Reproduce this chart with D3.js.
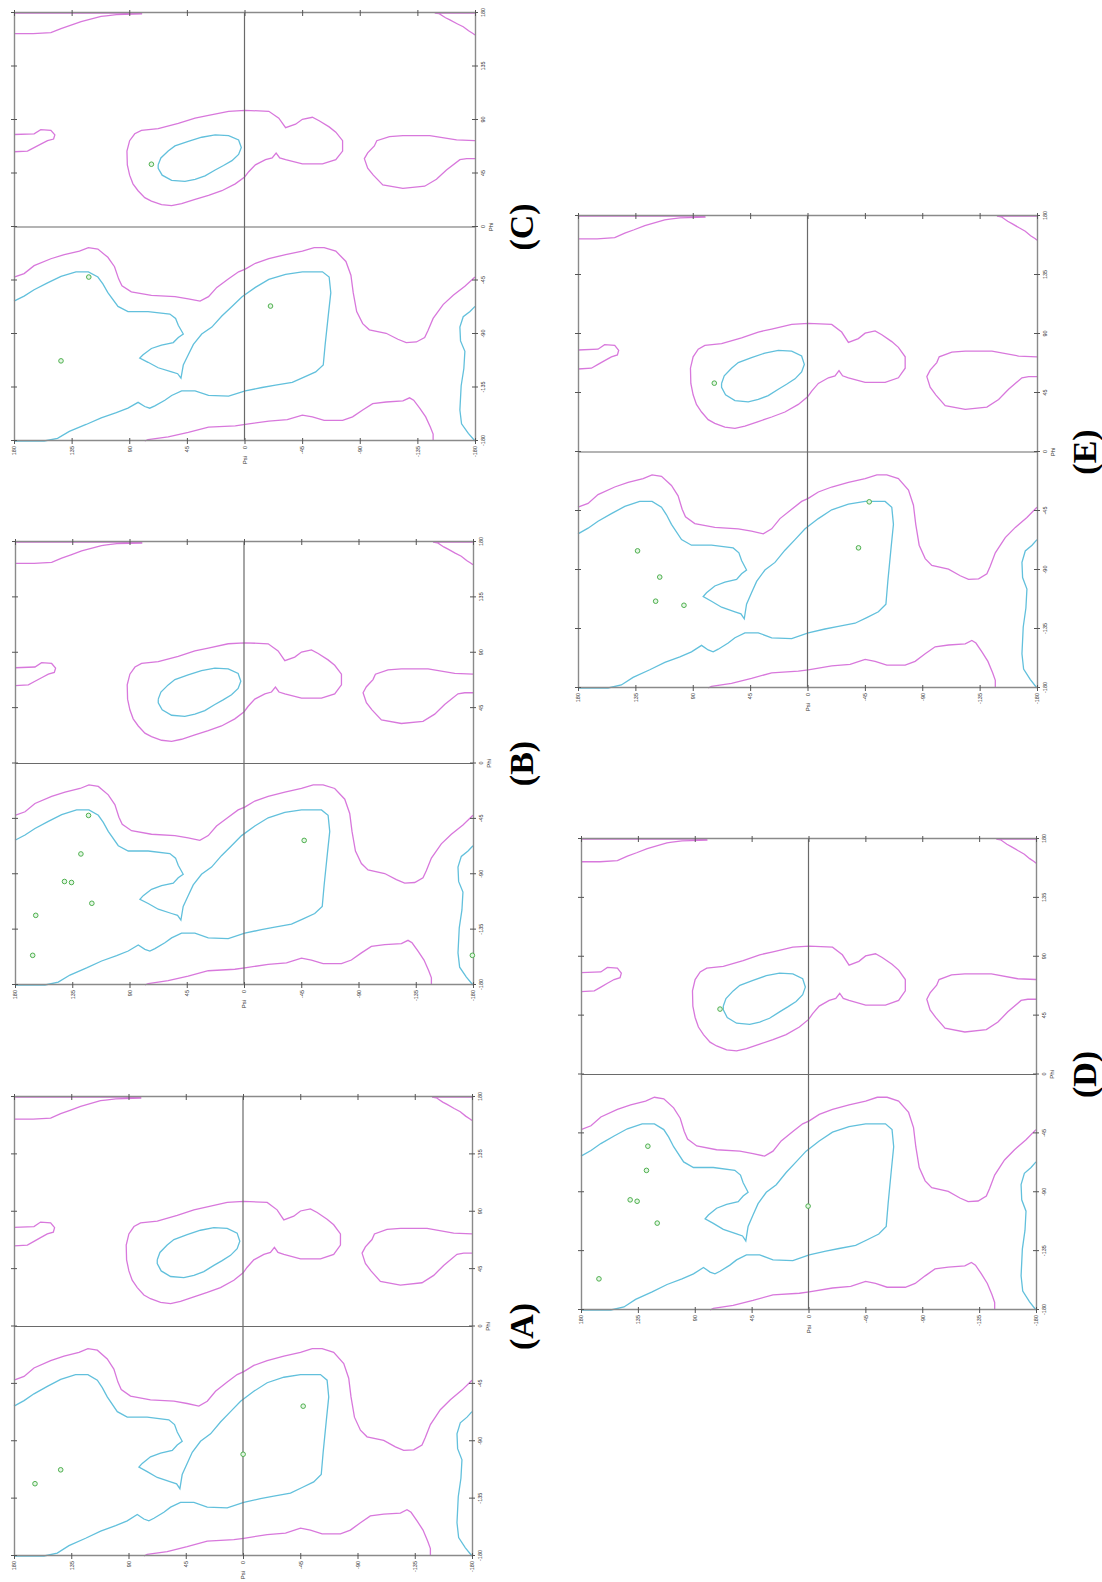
<!DOCTYPE html>
<html>
<head>
<meta charset="utf-8">
<script src="https://cdn.jsdelivr.net/npm/d3@7"></script>
<style>
  body { margin: 0; background: #fff; }
</style>
</head>
<body>
<div id="chart"></div>
<script>
// tick values, same on both axes
const tickValues = [-180, -135, -90, -45, 0, 45, 90, 135, 180];
const panelNames = ["(A)", "(B)", "(C)", "(D)", "(E)"];

// contour lines, every point is [phi, psi]
// allowed (outer) region boundaries
const allowedTop = [[180,180],[180,82],[179.2,80],[178.6,100],[177.6,108],[177.1,112],[172.7,127.6],[169.5,136],[166.9,143.3],[163.5,151.2],[162.6,165],[162.6,180]];
const allowedTopRight = [[180,-180],[180,-148.6],[179.4,-152],[176,-157],[174.2,-160.4],[171,-166],[168.4,-170.8],[165,-175],[162.6,-178.7],[161.5,-180]];
const allowedLeftBlob = [[77.8,180],[78.4,164.3],[81.9,159.1],[81.3,151.2],[77.5,148.1],[74.0,149.1],[72.6,153.8],[69.7,159.1],[66.8,164.3],[63.9,169.5],[63.3,180]];
const allowedLeftHanded = [[98.1,-0.6],[97.3,-19.0],[91.5,-26.8],[83.6,-32.1],[86.5,-39.9],[90.6,-45.2],[92.3,-53.0],[89.4,-58.3],[84.2,-66.1],[79.8,-71.3],[72.6,-76.6],[63.9,-76.6],[56.6,-71.3],[53.1,-60.9],[53.1,-45.2],[56.6,-32.1],[58.1,-27.5],[62.1,-24.7],[58.1,-21.6],[56.6,-16.4],[52.3,-8.5],[46.5,-3.3],[42.1,-0.1],[36.3,7.2],[30.5,17.7],[26.7,28.1],[23.2,38.6],[19.7,49.1],[18.0,56.9],[18.9,64.8],[21.8,72.7],[24.7,77.9],[30.5,83.1],[36.3,87.1],[43.6,89.7],[52.3,91.5],[63.9,91.8],[72.6,89.7],[78.4,85.7],[81.3,80.5],[82.7,67.4],[87.1,51.7],[91.5,38.6],[93.8,28.1],[97.3,12.4],[98.1,-0.6]];
const allowedRight = [[72.6,-180],[73.2,-165.6],[76.9,-144.7],[76.9,-123.7],[76.1,-113.2],[72.6,-103.3],[68.2,-101.4],[62.4,-96.2],[57.5,-93.6],[49.4,-96.2],[43.6,-100.6],[35.4,-108.0],[32.5,-123.7],[34.3,-140.7],[40.1,-149.9],[47.9,-157.7],[56.6,-168.2],[57.5,-173.5],[57.5,-180]];
const allowedMain = [[-42.1,180],[-39.2,172.1],[-32.5,164.3],[-26.7,151.2],[-23.2,140.7],[-20.3,128.9],[-17.4,121.9],[-18.6,114.5],[-25.5,106.7],[-33.4,101.5],[-43.6,98.3],[-49.4,95.7],[-54.6,88.4],[-57.5,72.7],[-58.6,54.3],[-60.4,43.9],[-62.4,34.7],[-58.6,28.1],[-50.8,21.6],[-43.6,12.4],[-37.7,4.6],[-35.4,-0.6],[-30.5,-8.5],[-26.7,-19.0],[-23.2,-32.1],[-20.3,-45.2],[-17.4,-54.4],[-17.4,-62.2],[-20.3,-71.3],[-29.0,-79.2],[-40.6,-83.1],[-55.2,-84.9],[-71.1,-87.6],[-81.3,-92.3],[-86.5,-97.5],[-89.4,-110.6],[-94.4,-119.8],[-97.2,-126.3],[-96.7,-134.2],[-92.9,-140.7],[-87.1,-143.3],[-76.9,-147.3],[-65.3,-155.1],[-57.5,-163.0],[-49.9,-172.1],[-42.1,-180]];
const allowedBottom = [[-180,77.9],[-178.8,75.3],[-176.5,59.6],[-172.7,43.9],[-168.4,28.1],[-167.2,7.2],[-166.1,-0.6],[-163.2,-19.0],[-162.0,-33.4],[-158.2,-45.2],[-159.7,-53.0],[-162.6,-62.2],[-162.6,-76.6],[-159.7,-84.4],[-153.9,-92.3],[-148.6,-100.1],[-147.2,-110.6],[-146.3,-123.7],[-143.7,-128.9],[-145.7,-132.1],[-152.4,-136.8],[-159.7,-141.5],[-168.4,-145.2],[-174.2,-147.3],[-180,-147.3]];

// favoured (inner) region boundaries
const favouredLeftHanded = [[52.3,67.4],[58.1,65.3],[63.9,59.6],[68.2,54.3],[72.0,43.9],[75.5,33.4],[77.5,22.9],[76.9,12.4],[73.2,4.6],[66.8,2.5],[61.0,4.6],[55.8,9.8],[51.7,16.4],[47.9,22.9],[43.0,30.8],[40.1,38.6],[38.3,46.5],[39.2,56.9],[43.6,64.3],[49.4,67.4],[52.3,67.4]];
const favouredMain = [[-62.4,180],[-58.1,172.1],[-52.8,164.3],[-47.0,153.8],[-41.5,143.3],[-37.7,131.6],[-37.7,121.9],[-42.1,114.5],[-47.9,110.6],[-55.2,106.7],[-66.8,98.8],[-71.1,91.0],[-71.1,75.3],[-73.2,58.3],[-76.9,53.8],[-82.7,51.7],[-90.0,47.8],[-92.9,51.7],[-97.2,55.6],[-99.3,64.8],[-102.2,72.7],[-107.4,79.2],[-110.3,81.8],[-113.8,75.3],[-118.4,67.4],[-121.9,56.9],[-123.4,52.2],[-127.2,49.6],[-116.1,47.8],[-107.4,43.9],[-98.7,39.9],[-90.0,33.4],[-84.2,25.5],[-74.9,17.7],[-66.8,9.8],[-58.6,1.9],[-50.8,-8.5],[-44.1,-19.0],[-39.8,-32.1],[-37.7,-45.2],[-37.7,-60.9],[-42.1,-66.1],[-55.2,-67.4],[-72.6,-65.6],[-98.7,-63.0],[-116.1,-61.5],[-121.9,-55.6],[-126.3,-46.5],[-130.6,-37.3],[-133.0,-24.2],[-135.0,-13.7],[-137.9,-0.6],[-142.3,12.4],[-141.7,28.1],[-137.9,38.6],[-137.9,49.1],[-141.7,56.9],[-145.7,62.2],[-150.4,70.0],[-152.4,74.0],[-151.0,77.9],[-147.5,83.1],[-152.4,91.0],[-156.2,100.1],[-160.5,111.9],[-166.1,123.7],[-171.9,136.8],[-177.7,146.0],[-180,156.4],[-180,180]];
const favouredRight = [[-66.8,-180],[-71.1,-176.1],[-75.5,-170.8],[-84.2,-168.2],[-95.8,-168.7],[-104.5,-172.1],[-119.0,-171.3],[-133.5,-169.2],[-153.9,-168.2],[-165.5,-169.5],[-173.6,-174.8],[-180,-180]];

const allowedLines = [allowedTop, allowedTopRight, allowedLeftBlob, allowedLeftHanded, allowedRight, allowedMain, allowedBottom];
const favouredLines = [favouredLeftHanded, favouredMain, favouredRight];

// residues of each panel, [phi, psi]
const residuesA = [[-123.3,163.5],[-112.4,143.3],[-100.2,-0.1],[-62.5,-47.3]];
const residuesB = [[-42.2,122.2],[-73.5,128.2],[-95.9,141.1],[-96.7,135.6],[-113.6,119.6],[-123.4,163.7],[-155.9,166.1],[-62.5,-47.3],[-155.9,-179.5]];
const residuesC = [[52.8,72.7],[-42.1,121.6],[-112.6,143.3],[-66.5,-20.3]];
const residuesD = [[50,70],[-54.8,127.1],[-73.3,128.2],[-95.8,141.1],[-96.9,135.6],[-113.6,119.7],[-156.2,165.8],[-100.6,0.3]];
const residuesE = [[52.5,73.1],[-75.4,133.3],[-95.4,115.9],[-113.8,119.1],[-116.9,96.9],[-73.1,-40.0],[-38.0,-48.4]];

// where each (rotated) panel sits on the page
const boxes = {
  "(A)": {left: 14, top: 1097, right: 472, bottom: 1556, labelX: 521},
  "(B)": {left: 15, top: 542, right: 473, bottom: 985, labelX: 521},
  "(C)": {left: 14, top: 13, right: 475, bottom: 441, labelX: 521},
  "(D)": {left: 581, top: 839, right: 1036, bottom: 1310, labelX: 1084},
  "(E)": {left: 578, top: 216, right: 1037, bottom: 688, labelX: 1084}
};
const residues = {"(A)": residuesA, "(B)": residuesB, "(C)": residuesC, "(D)": residuesD, "(E)": residuesE};

const svg = d3.select("#chart")
  .append("svg")
  .attr("width", 1102)
  .attr("height", 1582)
  .style("background", "#fff");

const axisColor = "#8a8a8a";

function drawPanel(name) {
  const box = boxes[name];
  const W = box.bottom - box.top;   // phi runs up the page
  const H = box.right - box.left;   // psi runs across the page

  // the whole plot is turned a quarter left
  const g = svg.append("g")
    .attr("transform", `translate(${box.left}, ${box.bottom}) rotate(-90)`);

  const x = d3.scaleLinear().domain([-180, 180]).range([0, W]);
  const y = d3.scaleLinear().domain([-180, 180]).range([H, 0]);

  const line = d3.line()
    .x(d => x(d[0]))
    .y(d => y(d[1]));

  // contours
  g.selectAll(".allowed")
    .data(allowedLines)
    .join("path")
    .attr("fill", "none")
    .attr("stroke", "#d878dc")
    .attr("stroke-width", 1.3)
    .attr("d", line);

  g.selectAll(".favoured")
    .data(favouredLines)
    .join("path")
    .attr("fill", "none")
    .attr("stroke", "#62c0dc")
    .attr("stroke-width", 1.3)
    .attr("d", line);

  // zero lines
  g.append("line")
    .attr("x1", x(0)).attr("x2", x(0))
    .attr("y1", 0).attr("y2", H)
    .attr("stroke", "#6a6a6a").attr("stroke-width", 1.2);
  g.append("line")
    .attr("x1", 0).attr("x2", W)
    .attr("y1", y(0)).attr("y2", y(0))
    .attr("stroke", "#6a6a6a").attr("stroke-width", 1.2);

  // axes on all four sides
  const fmt = d => String(d);
  const bottom = g.append("g")
    .attr("transform", `translate(0, ${H})`)
    .call(d3.axisBottom(x).tickValues(tickValues).tickSize(3).tickSizeOuter(0).tickPadding(3).tickFormat(fmt));
  bottom.selectAll(".tick line").attr("y1", -3);

  const left = g.append("g")
    .call(d3.axisLeft(y).tickValues(tickValues).tickSize(3).tickSizeOuter(0).tickPadding(2).tickFormat(fmt));
  left.selectAll(".tick line").attr("x1", 3);

  const top = g.append("g")
    .call(d3.axisTop(x).tickValues(tickValues).tickSize(3).tickSizeOuter(0).tickFormat(""));
  top.selectAll(".tick line").attr("y1", 3);

  const right = g.append("g")
    .attr("transform", `translate(${W}, 0)`)
    .call(d3.axisRight(y).tickValues(tickValues).tickSize(3).tickSizeOuter(0).tickFormat(""));
  right.selectAll(".tick line").attr("x1", -3);

  g.selectAll(".domain").attr("stroke", axisColor).attr("stroke-width", 1.4);
  g.selectAll(".tick line").attr("stroke", "#555").attr("stroke-width", 1);
  g.selectAll(".tick text")
    .attr("font-family", "Liberation Sans, Arial, sans-serif")
    .attr("font-size", 5.5)
    .attr("fill", "#333");

  // axis titles
  g.append("text")
    .attr("x", x(0))
    .attr("y", H + 16)
    .attr("text-anchor", "middle")
    .attr("dominant-baseline", "central")
    .attr("font-family", "Liberation Sans, Arial, sans-serif")
    .attr("font-size", 6)
    .attr("fill", "#333")
    .text("Phi");
  g.append("text")
    .attr("x", -15)
    .attr("y", y(0))
    .attr("text-anchor", "end")
    .attr("dominant-baseline", "central")
    .attr("font-family", "Liberation Sans, Arial, sans-serif")
    .attr("font-size", 6)
    .attr("fill", "#333")
    .text("Psi");

  // residues
  g.selectAll(".res")
    .data(residues[name])
    .join("circle")
    .attr("cx", d => x(d[0]))
    .attr("cy", d => y(d[1]))
    .attr("r", 2.3)
    .attr("fill", "#e4f6e4")
    .attr("stroke", "#4fb04f")
    .attr("stroke-width", 1);

  // panel letter
  const cy = (box.top + box.bottom) / 2;
  svg.append("text")
    .attr("x", box.labelX)
    .attr("y", cy)
    .attr("transform", `rotate(-90, ${box.labelX}, ${cy})`)
    .attr("text-anchor", "middle")
    .attr("dominant-baseline", "central")
    .attr("font-family", "Liberation Serif, Times New Roman, serif")
    .attr("font-weight", "bold")
    .attr("font-size", 34)
    .attr("fill", "#000")
    .text(name);
}

panelNames.forEach(drawPanel);
</script>
</body>
</html>
